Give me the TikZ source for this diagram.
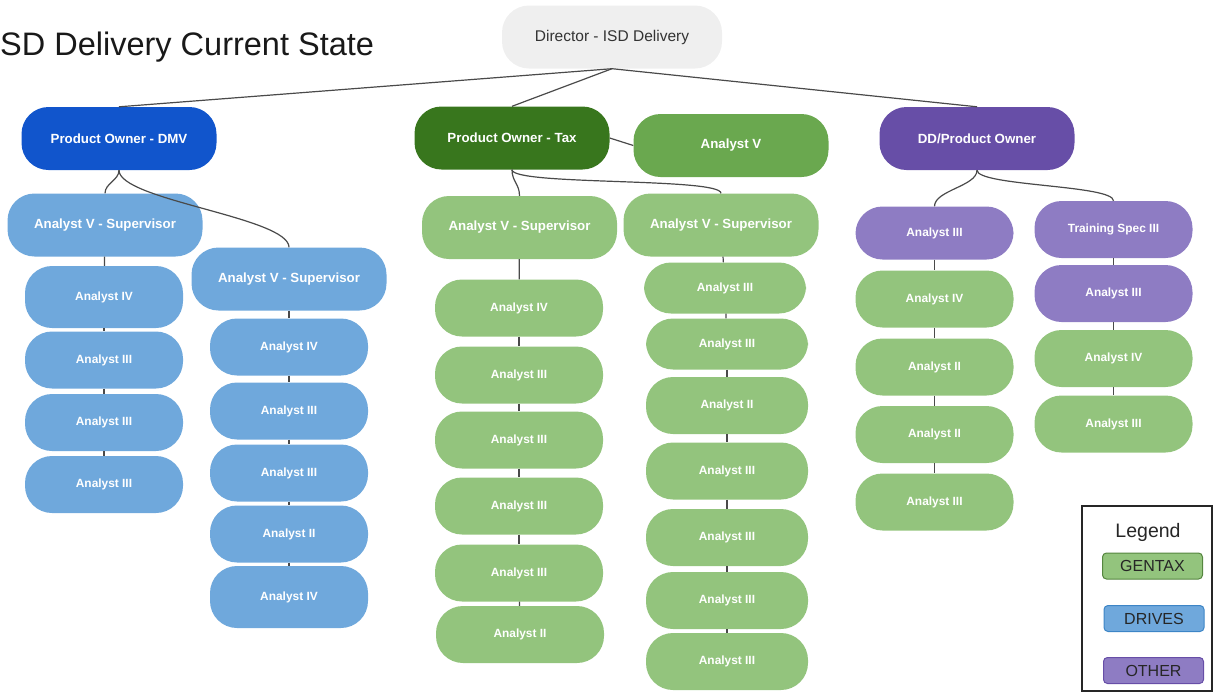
\documentclass[tikz,border=0pt]{standalone}
\usepackage{fontspec}
\setmainfont{Liberation Sans}
\begin{document}
\begin{tikzpicture}[x=1pt,y=-1pt,
  box/.style={rounded corners=27pt, inner sep=0pt, text=white, font=\bfseries\fontsize{13.3}{15}\selectfont},
  lead/.style={box, minimum width=195pt, minimum height=63pt},
  staff/.style={box, minimum width=158pt, minimum height=57pt, font=\bfseries\fontsize{11.9}{14}\selectfont},
  drives/.style={fill=drivesC},
  gentax/.style={fill=gentaxC},
  other/.style={fill=otherC},
  link/.style={draw=linkC, line width=1.2pt},
  legendkey/.style={rounded corners=4pt, line width=1pt, minimum width=100pt, minimum height=26pt, inner sep=0pt, text=black!85, font=\fontsize{16}{18}\selectfont}
]
\definecolor{drivesC}{HTML}{6FA8DC}
\definecolor{drivesD}{HTML}{1155CC}
\definecolor{gentaxC}{HTML}{93C47D}
\definecolor{gentaxM}{HTML}{6AA84F}
\definecolor{gentaxD}{HTML}{38761D}
\definecolor{otherC}{HTML}{8E7CC3}
\definecolor{otherD}{HTML}{674EA7}
\definecolor{dirC}{HTML}{EFEFEF}
\definecolor{linkC}{HTML}{4A4A4A}
\definecolor{drivesB}{HTML}{3D85C6}

\useasboundingbox (0,0) rectangle (1215,694);

% title
\node[anchor=base west, inner sep=0pt, font=\fontsize{32.5}{36}\selectfont, text=black!90] (title) at (0,55.5) {SD Delivery Current State};

% top level
\node[box, fill=dirC, minimum width=220pt, minimum height=63pt, text=black!80, font=\fontsize{15.5}{18}\selectfont] (dir) at (612,37) {Director - ISD Delivery};
\node[lead, fill=drivesD] (dmv) at (119,138.5) {Product Owner - DMV};
\node[lead, fill=gentaxD] (tax) at (512,138) {Product Owner - Tax};
\node[lead, fill=gentaxM] (av) at (731,145.5) {Analyst V};
\node[lead, fill=otherD] (dd) at (977,138.5) {DD/Product Owner};

% DMV branch
\node[lead, drives] (ds1) at (105,225) {Analyst V - Supervisor};
\node[lead, drives] (ds2) at (289,279) {Analyst V - Supervisor};
\node[staff, drives, minimum height=62pt] (d1) at (104,297) {Analyst IV};
\node[staff, drives] (d2) at (104,360) {Analyst III};
\node[staff, drives] (d3) at (104,422.5) {Analyst III};
\node[staff, drives] (d4) at (104,484.5) {Analyst III};
\node[staff, drives] (e1) at (289,347) {Analyst IV};
\node[staff, drives] (e2) at (289,411) {Analyst III};
\node[staff, drives] (e3) at (289,473) {Analyst III};
\node[staff, drives] (e4) at (289,534) {Analyst II};
\node[staff, drives, minimum height=62pt] (e5) at (289,597) {Analyst IV};

% Tax branch
\node[lead, gentax] (ts1) at (519.5,227.5) {Analyst V - Supervisor};
\node[lead, gentax] (ts2) at (721,225) {Analyst V - Supervisor};
\node[staff, gentax, minimum width=168pt] (t1) at (519,308) {Analyst IV};
\node[staff, gentax, minimum width=168pt] (t2) at (519,375) {Analyst III};
\node[staff, gentax, minimum width=168pt] (t3) at (519,440) {Analyst III};
\node[staff, gentax, minimum width=168pt] (t4) at (519,506) {Analyst III};
\node[staff, gentax, minimum width=168pt] (t5) at (519,573) {Analyst III};
\node[staff, gentax, minimum width=168pt] (t6) at (520,634.5) {Analyst II};
\node[staff, gentax, minimum width=162pt, minimum height=51pt] (u1) at (725,288) {Analyst III};
\node[staff, gentax, minimum width=162pt, minimum height=51pt] (u2) at (727,344) {Analyst III};
\node[staff, gentax, minimum width=162pt] (u3) at (727,405.5) {Analyst II};
\node[staff, gentax, minimum width=162pt] (u4) at (727,471) {Analyst III};
\node[staff, gentax, minimum width=162pt] (u5) at (727,537.5) {Analyst III};
\node[staff, gentax, minimum width=162pt] (u6) at (727,600.5) {Analyst III};
\node[staff, gentax, minimum width=162pt] (u7) at (727,661.5) {Analyst III};

% DD branch
\node[staff, other, minimum height=53pt] (p1) at (934.5,233) {Analyst III};
\node[staff, gentax] (g1) at (934.5,299) {Analyst IV};
\node[staff, gentax] (g2) at (934.5,367) {Analyst II};
\node[staff, gentax] (g3) at (934.5,434.5) {Analyst II};
\node[staff, gentax] (g4) at (934.5,502) {Analyst III};
\node[staff, other] (q1) at (1113.5,229.5) {Training Spec III};
\node[staff, other] (q2) at (1113.5,293.5) {Analyst III};
\node[staff, gentax] (q3) at (1113.5,358.5) {Analyst IV};
\node[staff, gentax] (q4) at (1113.5,424) {Analyst III};

% connectors from the director
\draw[link] (dir.south) -- (dmv.north);
\draw[link] (dir.south) -- (tax.north);
\draw[link] (dir.south) -- (dd.north);
\draw[link] (tax.east) -- (av.west);

% curved connectors to the supervisors
\draw[link] (dmv.south) .. controls +(0,10) and +(0,-10) .. (ds1.north);
\draw[link] (dmv.south) .. controls +(0,30) and +(0,-30) .. (ds2.north);
\draw[link] (tax.south) .. controls +(0,12) and +(0,-12) .. (ts1.north);
\draw[link] (tax.south) .. controls +(0,16) and +(0,-16) .. (ts2.north);
\draw[link] (dd.south) .. controls +(0,16) and +(0,-16) .. (p1.north);
\draw[link] (dd.south) .. controls +(0,16) and +(0,-16) .. (q1.north);

% vertical chains
\foreach \a/\b in {ds1/d1, d1/d2, d2/d3, d3/d4,
                   ds2/e1, e1/e2, e2/e3, e3/e4, e4/e5,
                   ts1/t1, t1/t2, t2/t3, t3/t4, t4/t5, t5/t6,
                   ts2/u1, u1/u2, u2/u3, u3/u4, u4/u5, u5/u6, u6/u7,
                   p1/g1, g1/g2, g2/g3, g3/g4,
                   q1/q2, q2/q3, q3/q4}
  \draw[link] (\a) -- (\b);

% legend
\node[draw=black!85, line width=1.5pt, minimum width=130pt, minimum height=185pt, inner sep=0pt] (legend) at (1147,598.5) {};
\node[text=black!85, font=\fontsize{19.5}{22}\selectfont] (legtitle) at (1148,532) {Legend};
\node[legendkey, fill=gentaxC, draw=gentaxM!80!black] (kgentax) at (1152.5,566) {GENTAX};
\node[legendkey, fill=drivesC, draw=drivesB] (kdrives) at (1154,618.5) {DRIVES};
\node[legendkey, fill=otherC, draw=otherD] (kother) at (1153.5,670.5) {OTHER};
\end{tikzpicture}
\end{document}
